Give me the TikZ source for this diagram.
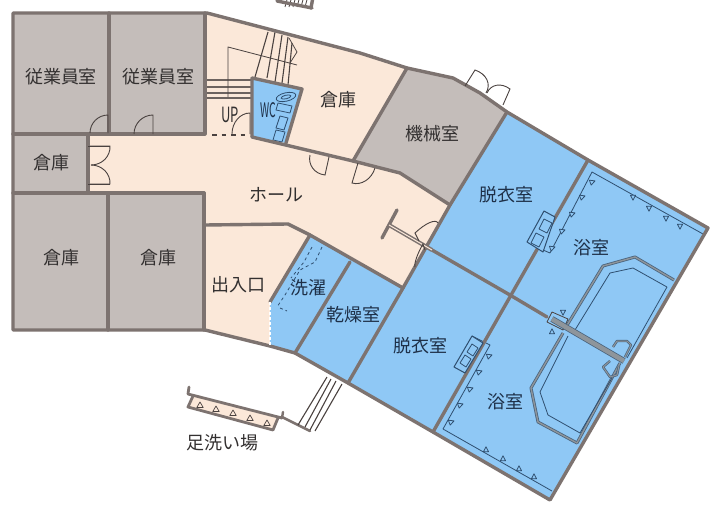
\documentclass[tikz,border=0pt]{standalone}
\usepackage{fontspec}
\usepackage{graphicx}
\setmainfont{Noto Sans CJK JP}
\usetikzlibrary{calc}
\definecolor{peach}{HTML}{FBE8D9}
\definecolor{grayroom}{HTML}{C4BDBA}
\definecolor{bluer}{HTML}{8FC8F5}
\definecolor{wallc}{HTML}{7D7370}
\definecolor{inkc}{HTML}{4A4240}
\definecolor{bluel}{HTML}{2F4F70}
\definecolor{tubg}{HTML}{8E959B}
\definecolor{labk}{HTML}{333030}
\definecolor{labb}{HTML}{1E3048}
\tikzset{
  wall/.style={draw=wallc,line width=3.4pt,line cap=round,line join=round},
  thinw/.style={draw=wallc,line width=2.6pt,line cap=round,line join=round},
  fine/.style={draw=inkc,line width=.8pt,line join=round},
  doorl/.style={draw=inkc,line width=.9pt},
  bfine/.style={draw=bluel,line width=.8pt,line join=round},
  tubl/.style={draw=bluel!70!tubg,line width=.8pt,double=tubg,double distance=1.4pt,line join=round},
  lab/.style={font=\fontsize{18}{20}\selectfont,text=labk,inner sep=0pt},
  blab/.style={lab,text=labb},
  tri/.style={bfine,fill=bluer},
  stairl/.style={draw=inkc,line width=1.1pt},
}
% hinge, leaf end, arc end
\newcommand\doorA[3]{\draw[doorl] (#1)--(#2) .. controls ($(#2)+0.55*(#3)-0.55*(#1)$) and ($(#3)+0.55*(#2)-0.55*(#1)$) .. (#3);}
\newcommand\tick[2]{\draw[tri] ($(#1)+(#2:3.2pt)$)--($(#1)+(#2+125:3.2pt)$)--($(#1)+(#2-125:3.2pt)$)--cycle;}
\begin{document}
\begin{tikzpicture}[x=1pt,y=-1pt]
\useasboundingbox (0,0) rectangle (716,506);
\fill[white] (0,0) rectangle (716,506);
% base fills
\fill[peach] (13,13)--(207,13)--(360,53)--(407,68)--(453,78)--(480,93)--(507,112)--(450,205)--(403,288)--(348,383)--(295,353)--(270,346)--(205,330)--(13,330)--cycle;
\fill[grayroom] (13,13) rectangle (205,134);
\fill[grayroom] (13,134) rectangle (88,193);
\fill[grayroom] (13,193) rectangle (205,330);
\fill[grayroom] (407,68)--(453,78)--(480,93)--(507,112)--(450,205)--(400,173)--(353,161)--cycle;
\fill[bluer] (507,112)--(588,160)--(708,228)--(550,500)--(433,432)--(348,383)--(403,288)--(450,205)--cycle;
\fill[bluer] (310,235)--(403,288)--(348,383)--(295,353)--(270,346)--(270,302)--cycle;
\fill[bluer] (252,78)--(302,89)--(286,143)--(252,137)--cycle;
% stair fragment at top
\begin{scope}
\clip (270,0) rectangle (320,10);
\foreach \k in {0,...,5}{\draw[fine] ({288+4*\k},-4)--({285+4*\k},7);}
\draw[wall] (277,1)--(312,8);
\draw[wall] (311,8)--(313,-3);
\end{scope}
% stairs
\draw[stairl] (268,32)--(255,77) (275,32)--(267,78) (282,35)--(275,82) (288,37)--(282,83) (292,43)--(288,85);
\draw[stairl,draw=inkc!80!peach,line width=1.3pt] (207,80)--(252,80) (207,87)--(252,87) (207,93)--(252,93) (207,98)--(252,98);
\draw[fine] (228,97)--(228,47)--(297,65);
\draw[fine] (289,38)--(297,52)--(290,63);
% WC fixtures
\draw[bfine,rotate around={13:(286,97)}] (286,97) ellipse (10 and 4.2);
\draw[bfine,rotate around={13:(286,97)}] (286,97) ellipse (5 and 1.8);
\draw[bfine] (278,103)--(292,106)--(290,113)--(276,110)--cycle;
\draw[bfine] (280,116)--(288,118)--(284,130)--(276,128)--cycle (276,130)--(285,132)--(282,142)--(273,140)--cycle;
% thin interior lines for bath rooms
\draw[bfine] (543,250)--(550,253)--(592,172)--(703,234);
\draw[bfine] (472,336)--(490,345)--(443,429)--(552,491);
\tick{592,182}{20}\tick{582,197}{20}\tick{572,214}{20}\tick{562,231}{20}\tick{552,248}{20}
\tick{633,197}{270}\tick{649,208}{270}\tick{666,218}{270}\tick{680,226}{270}
\tick{489,356}{20}\tick{479,372}{20}\tick{470,389}{20}\tick{460,405}{20}\tick{451,422}{20}
\tick{486,450}{90}\tick{503,459}{90}\tick{519,469}{90}\tick{534,477}{90}
% tub
\draw[tubl] (674,280)--(635,257)--(603,266)--(566,327);
\draw[tubl] (563,333)--(531,388)--(538,422)--(577,443)--(620,363);
\draw[bfine] (667,287)--(633,268)--(610,273)--(575,330);
\draw[bfine] (667,287)--(627,358);
\draw[bfine] (568,336)--(540,392)--(548,415)--(580,433)--(612,378);
% cups on tub divider
\draw[tubl,line width=.7pt,double distance=1pt] (613,347)--(617,341)--(627,341)--(631,345)--(625,357);
\draw[tubl,line width=.7pt,double distance=1pt] (610,361)--(603,367)--(610,377)--(617,375)--(619,366);
\draw[fine,fill=bluer] (552,312)--(568,319)--(563,330)--(547,322)--cycle;
\tick{563,312}{270}\tick{552,332}{90}
% walls
\draw[wall,fill=none] (13,330)--(13,13)--(207,13)--(360,53)--(407,68)--(453,78)--(480,93)--(507,112)--(588,160)--(708,228)--(550,500)--(433,432)--(348,383)--(295,353)--(270,346)--(205,330)--(13,330);
\draw[wall] (109,13)--(109,134) (205,13)--(205,134) (13,134)--(205,134);
\draw[wall] (88,134)--(88,193) (13,193)--(204,193);
\draw[wall] (108,193)--(108,330) (204,193)--(204,330);
\draw[wall] (205,225)--(288,224)--(310,235)--(403,288);
\draw[wall] (310,235)--(270,302);
\draw[white,line width=1.6pt,dash pattern=on 3pt off 2pt] (270,302)--(270,346);
\draw[wall] (350,262)--(295,353);
\draw[wall] (507,112)--(450,205)--(403,288)--(348,383);
\draw[wall] (407,68)--(353,161);
\draw[wall] (252,137)--(353,161)--(400,173)--(450,205);
\draw[wall] (252,78)--(302,89)--(286,143) (252,78)--(252,137);
\draw[wall] (588,160)--(433,432);
\draw[wall] (432,250)--(510,295)--(547,317);
% dashed threshold
\draw[draw=inkc,line width=1.6pt,dash pattern=on 4.5pt off 5pt] (212,135)--(250,135);
% tub divider
\draw[tubl,double distance=4.5pt] (552,319)--(624,361);
% T-wall and hall doors
\draw[wall] (382,238)--(397,210);
\draw[draw=wallc,line width=1.5pt,double=peach,double distance=1pt] (389,225)--(432,250);
\doorA{419,241}{415,233}{438,223}
\doorA{425,250}{423,244}{415,267}
% doors
\doorA{108,133}{108,115}{90,133}
\doorA{153,134}{153,115}{134,134}
\doorA{250,134}{250,113}{232,134}
\doorA{90,146}{110,146}{91,165}
\doorA{90,184}{110,184}{91,165}
\doorA{329,157}{325,175}{310,155}
\doorA{358,163}{352,183}{375,168}
\doorA{465,86}{475,70}{486,93}
\doorA{503,105}{510,89}{487,93}
\draw[doorl] (88,146)--(110,146) (88,184)--(110,184);
% washers
\draw[bfine,line width=1pt,fill=bluer] (544,211)--(555,217)--(543,252)--(527,242)--cycle;
\draw[bfine,fill=bluer] (544,219)--(552,223)--(547,233)--(539,229)--cycle (536,233)--(544,237)--(539,247)--(531,243)--cycle;
\draw[bfine,line width=1pt,fill=bluer] (472,336)--(483,343)--(465,373)--(454,367)--cycle;
\draw[bfine,fill=bluer] (472,344)--(478,348)--(473,356)--(467,352)--cycle (465,355)--(471,359)--(466,367)--(460,363)--cycle;
% laundry dashes
\draw[bluel,line width=.8pt,dash pattern=on 3pt off 3pt] (322,247)--(315,262)--(300,270)--(285,295)--(277,307);
\draw[bluel,line width=.8pt,dash pattern=on 3pt off 3pt] (312,247)--(304,262)--(291,278);
\draw[bluel,line width=.8pt,dash pattern=on 3pt off 3pt] (280,308)--(287,311);
% foot wash
\fill[peach] (193,396)--(277,418)--(273,429)--(189,407)--cycle;
\draw[wall,line width=2.8pt] (189,387)--(188,394)--(282,418);
\draw[wall,line width=2.8pt] (193,396)--(188,407)--(273,430)--(278,418);
\draw[wall,line width=2.4pt] (283,412)--(282,418);
\draw[thinw] (282,417)--(310,431);
\foreach \px/\py in {200/405,216/409,233/413,250/418,267/423}{
 \draw[fine,line width=.7pt] (\px,\py-3)--(\px+3.2,\py+2.5)--(\px-3.2,\py+2.5)--cycle;}
% ramp
\draw[stairl] (327,377)--(298,425) (331,379)--(305,427) (336,381)--(310,430) (342,384)--(315,431);
% labels
\node[lab] (n1) at (61,77) {従業員室};
\node[lab] (n2) at (158,77) {従業員室};
\node[lab] (n3) at (52,163) {倉庫};
\node[lab] (n4) at (61,258) {倉庫};
\node[lab] (n5) at (158,258) {倉庫};
\node[lab] (n6) at (338,100) {倉庫};
\node[lab] (n7) at (276,195) {ホール};
\node[lab] (n8) at (432,134) {機械室};
\node[lab] (n9) at (238,285) {出入口};
\node[blab] (n10) at (506,195) {脱衣室};
\node[blab] (n11) at (591,248) {浴室};
\node[blab] (n12) at (308,288) {洗濯};
\node[blab] (n13) at (353,315) {乾燥室};
\node[blab] (n14) at (420,346) {脱衣室};
\node[blab] (n15) at (505,402) {浴室};
\node[lab] (n16) at (222,443) {足洗い場};
\node[lab,font=\fontsize{21}{22}\selectfont] (n17) at (230,115) {\scalebox{.62}[1]{UP}};
\node[blab,font=\fontsize{20}{22}\selectfont] (n18) at (268,110) {\scalebox{.52}[1]{WC}};
\end{tikzpicture}
\end{document}
